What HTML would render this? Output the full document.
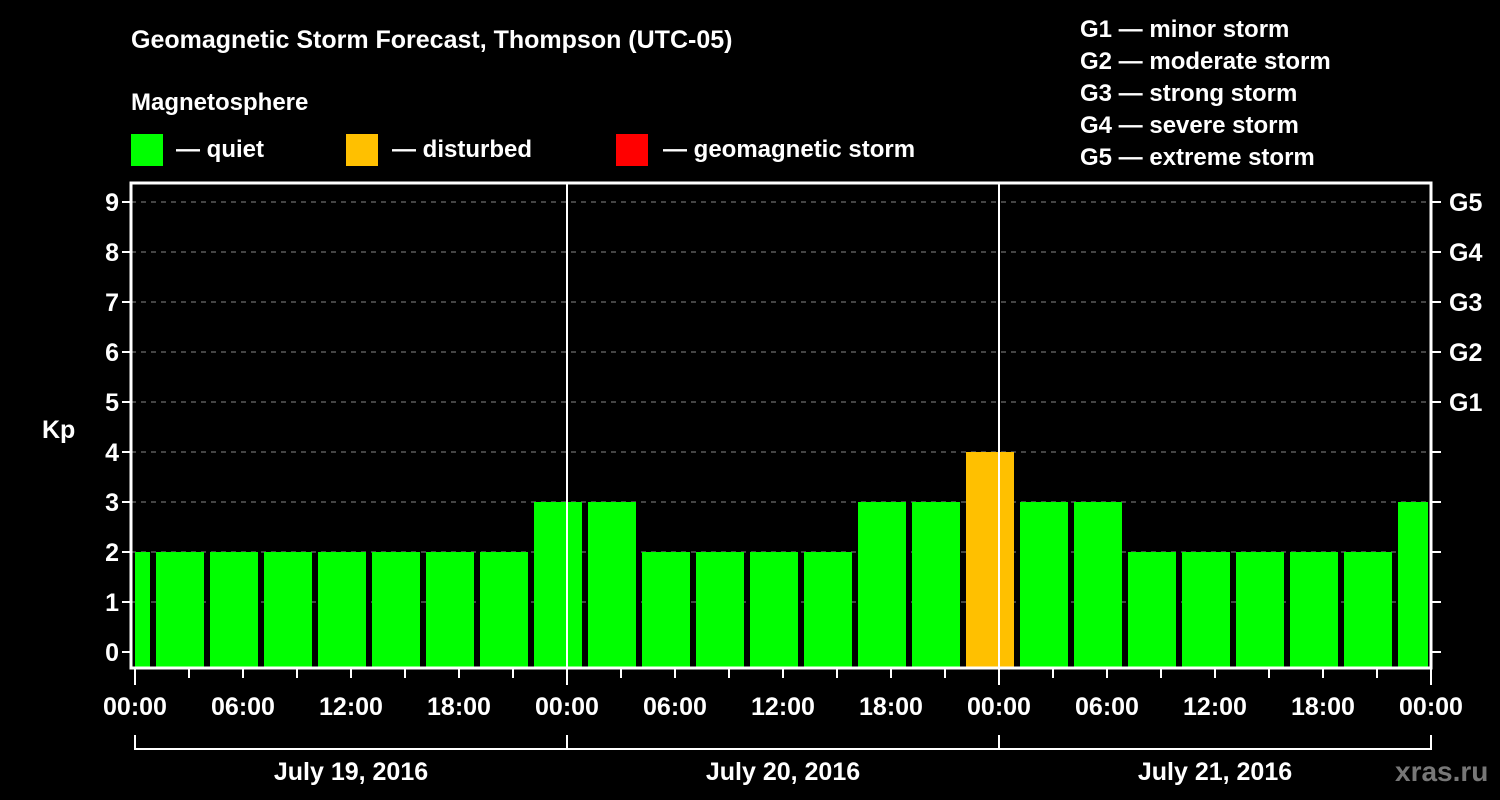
<!DOCTYPE html>
<html><head><meta charset="utf-8"><style>
body{margin:0;background:#000;}
svg{display:block;font-family:"Liberation Sans",Arial,sans-serif;font-weight:bold;}
</style></head><body>
<svg id="chart" width="1500" height="800" viewBox="0 0 1500 800" xmlns="http://www.w3.org/2000/svg">
<rect width="1500" height="800" fill="#000"/>
<text x="131" y="48" fill="#fff" font-size="25">Geomagnetic Storm Forecast, Thompson (UTC-05)</text>
<text x="131" y="110" fill="#fff" font-size="24">Magnetosphere</text>
<g><rect x="131" y="134" width="32" height="32" fill="#00ff00"/><text x="176" y="157" fill="#fff" font-size="24">— quiet</text></g>
<g><rect x="346" y="134" width="32" height="32" fill="#ffc000"/><text x="392" y="157" fill="#fff" font-size="24">— disturbed</text></g>
<g><rect x="616" y="134" width="32" height="32" fill="#ff0000"/><text x="663" y="157" fill="#fff" font-size="24">— geomagnetic storm</text></g>
<g fill="#fff" font-size="24">
<text x="1080" y="37">G1 — minor storm</text>
<text x="1080" y="69">G2 — moderate storm</text>
<text x="1080" y="101">G3 — strong storm</text>
<text x="1080" y="133">G4 — severe storm</text>
<text x="1080" y="165">G5 — extreme storm</text>
</g>
<text x="42" y="438" fill="#fff" font-size="25">Kp</text>
<g id="grid"></g><g id="bars"></g><g id="axes"></g>
<text x="1395" y="781" fill="#777" font-size="28">xras.ru</text>
</svg>
<script>
const startHours=[-2,1,4,7,10,13,16,19,22,25,28,31,34,37,40,43,46,49,52,55,58,61,64,67,70];
const kpValues=[2,2,2,2,2,2,2,2,3,3,2,2,2,2,3,3,4,3,3,2,2,2,2,2,3];
const kpTicks=[0,1,2,3,4,5,6,7,8,9];
const gLabels=["G1","G2","G3","G4","G5"];
const timeLabels=["00:00","06:00","12:00","18:00","00:00","06:00","12:00","18:00","00:00","06:00","12:00","18:00","00:00"];
const dateLabels=["July 19, 2016","July 20, 2016","July 21, 2016"];
const NS="http://www.w3.org/2000/svg";
const L=131,R=1431,T=183,B=668,X0=135;
const x=h=>X0+h*18;
const y=v=>652-v*50;
function mk(tag,at,parent,txt){const e=document.createElementNS(NS,tag);for(const k in at)e.setAttribute(k,at[k]);if(txt!=null)e.textContent=txt;document.getElementById(parent).appendChild(e);return e;}
kpTicks.forEach(v=>{
 if(v>=1){const g=mk('line',{x1:L,x2:R,y1:y(v),y2:y(v),stroke:'#888','stroke-dasharray':'5,5','stroke-width':1},'grid');
 
 }
 const t=mk('line',{x1:L-9,x2:L,y1:y(v),y2:y(v),stroke:'#fff','stroke-width':2},'axes');
 
 
 const rt=mk('line',{x1:R,x2:R+10,y1:y(v),y2:y(v),stroke:'#fff','stroke-width':2},'axes');
 
 
 const l=mk('text',{x:L-12,y:y(v)+9,fill:'#fff','font-size':25,'text-anchor':'end'},'axes',String(v));
 
 
});
gLabels.forEach((g,i)=>{
 const l=mk('text',{x:R+18,y:y(5+i)+9,fill:'#fff','font-size':25},'axes',g);
 
 
});
startHours.forEach((h,i)=>{
 let x1=x(h)+3,x2=x(h+3)-3;x1=Math.max(x1,X0);x2=Math.min(x2,R-3);
 const v=kpValues[i];
 const c=v>=5?'#ff0000':(v>=4?'#ffc000':'#00ff00');
 const b=mk('rect',{x:x1,y:y(v),width:x2-x1,height:B-y(v),fill:c},'bars');
 
 
});
[1,2].forEach(d=>{const l=mk('line',{x1:x(d*24),x2:x(d*24),y1:T,y2:B,stroke:'#fff','stroke-width':2},'axes');
 
 });
const fr=mk('rect',{x:L,y:T,width:R-L,height:B-T,fill:'none',stroke:'#fff','stroke-width':3},'axes');


for(let h=0;h<=72;h+=3){
 const t=mk('line',{x1:x(h),x2:x(h),y1:B,y2:B+(h%24===0?17:10),stroke:'#fff','stroke-width':2},'axes');
 
 
}
timeLabels.forEach((s,i)=>{
 const l=mk('text',{x:x(i*6),y:715,fill:'#fff','font-size':25,'text-anchor':'middle'},'axes',s);
 
 
});
const br=mk('polyline',{points:`${x(0)},735 ${x(0)},749 ${x(72)},749 ${x(72)},735`,fill:'none',stroke:'#fff','stroke-width':2},'axes');


[1,2].forEach(d=>{const l=mk('line',{x1:x(d*24),x2:x(d*24),y1:735,y2:749,stroke:'#fff','stroke-width':2},'axes');
 
 });
dateLabels.forEach((s,i)=>{
 const l=mk('text',{x:x(i*24+12),y:780,fill:'#fff','font-size':25,'text-anchor':'middle'},'axes',s);
 
 
});
</script>
</body></html>
